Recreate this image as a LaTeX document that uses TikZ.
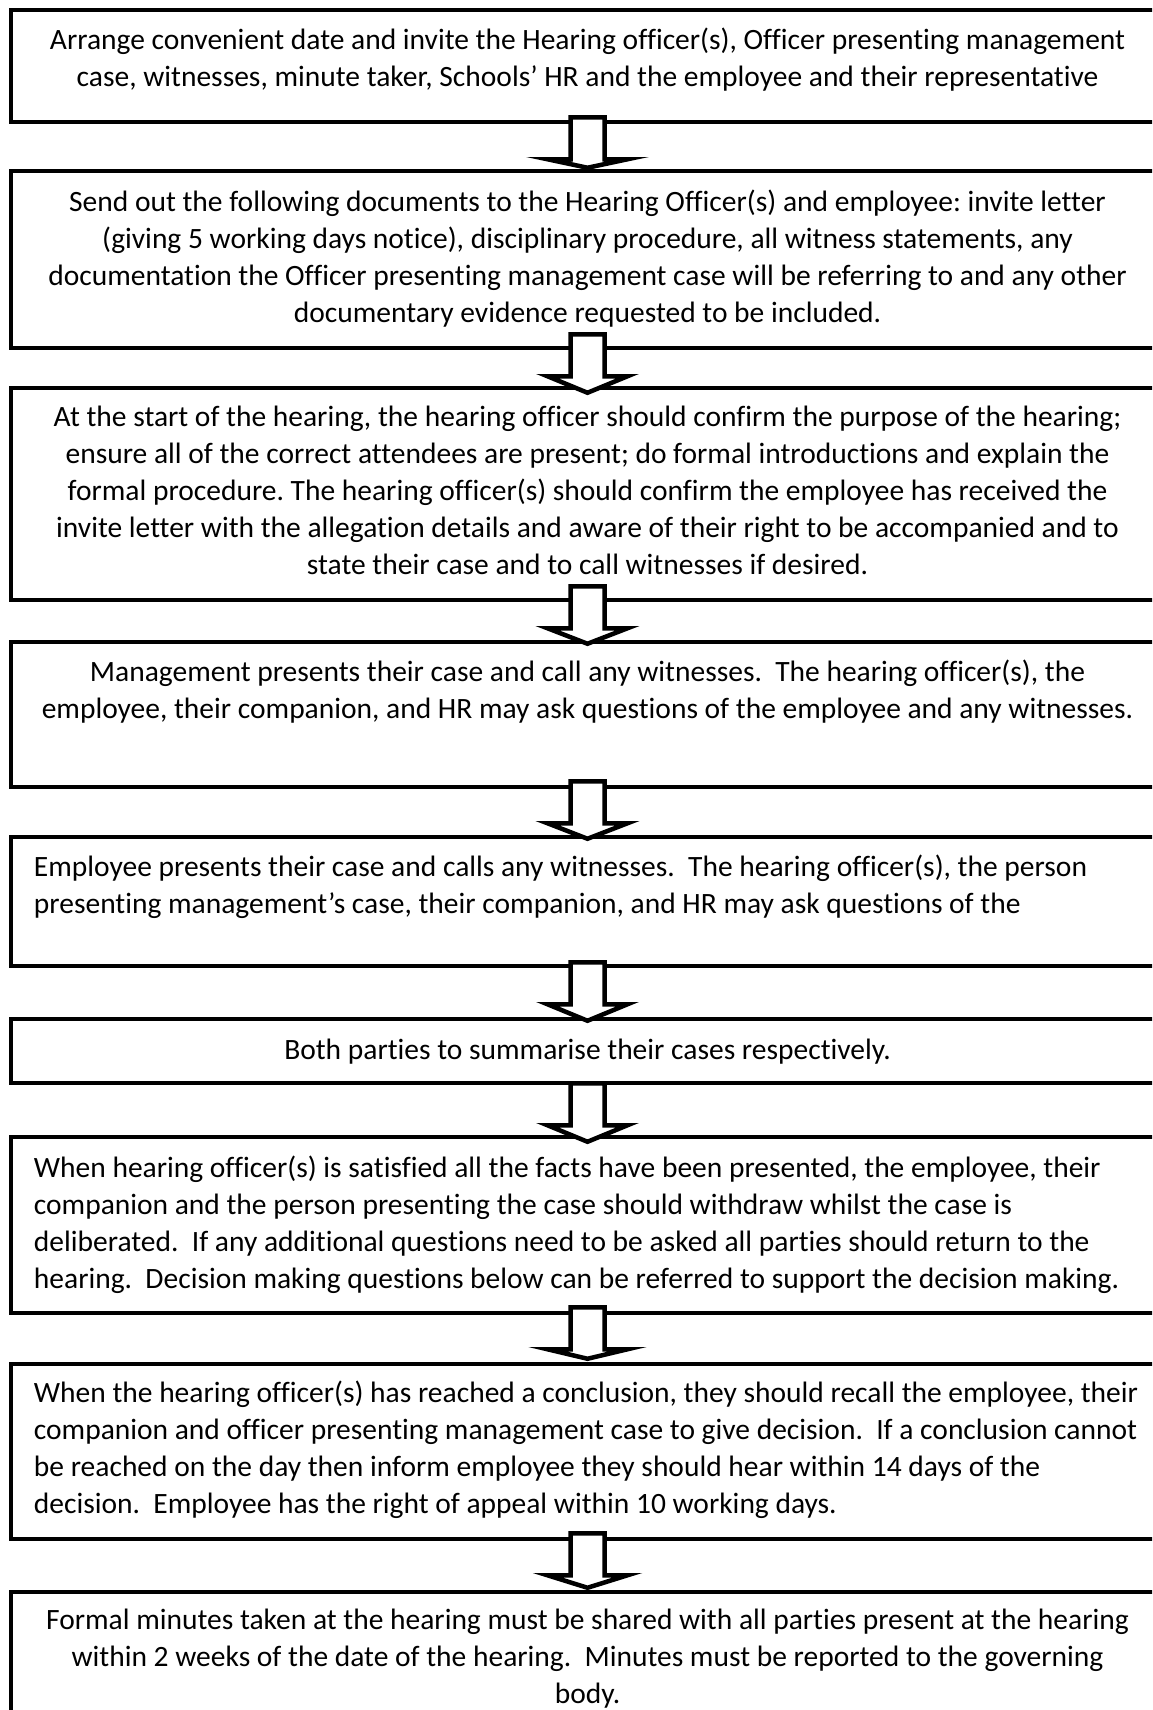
\documentclass[tikz,border=0pt]{standalone}
\usepackage{fontspec}
\setmainfont{Carlito}[Ligatures={NoCommon}]
\frenchspacing
\tikzset{
  box/.style={draw=black, line width=4.5bp, fill=white, rectangle, minimum width=1153bp, inner sep=0pt},
  ctext/.style={font=\fontsize{29.5bp}{36.8bp}\selectfont, align=center, inner sep=0pt, anchor=north},
  ltext/.style={font=\fontsize{29.5bp}{36.8bp}\selectfont, align=left, inner sep=0pt, anchor=north west},
  blockarrow/.style={draw=black, line width=4.5bp, fill=white, line join=miter},
}
% #1 upper box, #2 lower box, #3 shaft top above #1.south (bp), #4 tip shift from #2.north (bp, up positive)
\newcommand\blockarr[4]{%
  \coordinate (#1-top) at ([yshift=#3bp]#1.south);
  \coordinate (#2-tip) at ([yshift=#4bp]#2.north);
  \draw[blockarrow] ([xshift=-17bp]#1-top) -- ([xshift=17bp]#1-top)
    -- ([xshift=17bp,yshift=-42bp]#1-top) -- ([xshift=40bp,yshift=-42bp]#1-top)
    -- (#2-tip) -- ([xshift=-40bp,yshift=-42bp]#1-top)
    -- ([xshift=-17bp,yshift=-42bp]#1-top) -- cycle;
}
\begin{document}
\begin{tikzpicture}[x=1bp,y=-1bp]
\useasboundingbox (0,0) rectangle (1152,1710);
\fill[white] (0,0) rectangle (1152,1710);
\clip (0,0) rectangle (1152,1710);

% boxes
\node[box, minimum height=112bp] (b1) at (587.5,66) {};
\node[box, minimum height=177bp] (b2) at (587.5,259.5) {};
\node[box, minimum height=212bp] (b3) at (587.5,494) {};
\node[box, minimum height=145bp] (b4) at (587.5,714.5) {};
\node[box, minimum height=129bp] (b5) at (587.5,901.5) {};
\node[box, minimum height=64bp] (b6) at (587.5,1051) {};
\node[box, minimum height=176bp] (b7) at (587.5,1225) {};
\node[box, minimum height=175bp] (b8) at (587.5,1451.5) {};
\node[box, minimum height=168bp] (b9) at (587.5,1676) {};

% block arrows
\blockarr{b1}{b2}{7}{1}
\blockarr{b2}{b3}{16}{-7}
\blockarr{b3}{b4}{16}{-4}
\blockarr{b4}{b5}{8}{-4}
\blockarr{b5}{b6}{6}{-4}
\blockarr{b6}{b7}{2}{-7}
\blockarr{b7}{b8}{8}{3}
\blockarr{b8}{b9}{8}{2}

% texts
\node[ctext] (t1) at ([yshift=-16.2bp]b1.north) {\strut Arrange convenient date and invite the Hearing officer(s), Officer presenting management\\
case, witnesses, minute taker, Schools’ HR and the employee and their representative};

\node[ctext] (t2) at ([yshift=-17.2bp]b2.north) {\strut Send out the following documents to the Hearing Officer(s) and employee: invite letter\\
(giving 5 working days notice), disciplinary procedure, all witness statements, any\\
documentation the Officer presenting management case will be referring to and any other\\
documentary evidence requested to be included.};

\node[ctext] (t3) at ([yshift=-15.2bp]b3.north) {\strut At the start of the hearing, the hearing officer should confirm the purpose of the hearing;\\
ensure all of the correct attendees are present; do formal introductions and explain the\\
formal procedure. The hearing officer(s) should confirm the employee has received the\\
invite letter with the allegation details and aware of their right to be accompanied and to\\
state their case and to call witnesses if desired.};

\node[ctext] (t4) at ([yshift=-16.2bp]b4.north) {\strut Management presents their case and call any witnesses.~ The hearing officer(s), the\\
employee, their companion, and HR may ask questions of the employee and any witnesses.};

\node[ltext] (t5) at ([xshift=25bp,yshift=-16.2bp]b5.north west) {\strut Employee presents their case and calls any witnesses.~ The hearing officer(s), the person\\
presenting management’s case, their companion, and HR may ask questions of the};

\node[ctext] (t6) at ([yshift=-17.2bp]b6.north) {\strut Both parties to summarise their cases respectively.};

\node[ltext] (t7) at ([xshift=25bp,yshift=-17.2bp]b7.north west) {\strut When hearing officer(s) is satisfied all the facts have been presented, the employee, their\\
companion and the person presenting the case should withdraw whilst the case is\\
deliberated.~ If any additional questions need to be asked all parties should return to the\\
hearing.~ Decision making questions below can be referred to support the decision making.};

\node[ltext] (t8) at ([xshift=25bp,yshift=-15.2bp]b8.north west) {\strut When the hearing officer(s) has reached a conclusion, they should recall the employee, their\\
companion and officer presenting management case to give decision.~ If a conclusion cannot\\
be reached on the day then inform employee they should hear within 14 days of the\\
decision.~ Employee has the right of appeal within 10 working days.};

\node[ctext] (t9) at ([yshift=-14.2bp]b9.north) {\strut Formal minutes taken at the hearing must be shared with all parties present at the hearing\\
within 2 weeks of the date of the hearing.~ Minutes must be reported to the governing\\
body.};
\end{tikzpicture}
\end{document}
